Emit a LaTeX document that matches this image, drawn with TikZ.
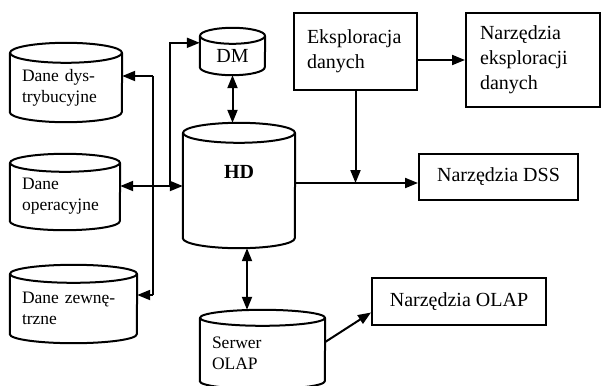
\documentclass[tikz,border=0pt]{standalone}
\usepackage{fontspec}
\setmainfont{Liberation Serif}
\usetikzlibrary{arrows.meta,calc}

\tikzset{
  canline/.style={line width=2pt, line join=round},
  can/.style={inner xsep=12pt, inner ysep=0pt, align=left, font=\fontsize{17.5}{21}\selectfont},
  box/.style={draw, line width=2pt, inner ysep=0pt, font=\fontsize{20}{25}\selectfont},
  wire/.style={line width=2pt},
  link/.style={wire, -{Triangle[length=13pt,width=10pt]}},
  twoway/.style={wire, {Triangle[length=13pt,width=10pt]}-{Triangle[length=13pt,width=10pt]}}
}

% outline of a can round node #1 (north = rim centre), half width #2, rim radius #3
\newcommand{\drawcan}[3]{%
  \draw[canline] (#1.north west) -- ($(#1.south west)+(0,-#3)$)
    arc[start angle=180, end angle=0, x radius=#2, y radius=#3]
    -- (#1.north east);
  \draw[canline] (#1.north) ellipse[x radius=#2, y radius=#3];
}

\begin{document}
\begin{tikzpicture}[x=1pt,y=1pt,yscale=-1,xscale=1]
    \useasboundingbox (0,0) rectangle (601,385);

    %Shape: Can
    \draw (66,87.5) node (dys) [can, text width=88pt, minimum height=69pt] {Dane dys-\\trybucyjne};
    \drawcan{dys}{56}{10}
    %Shape: Can
    \draw (65,196.5) node (ope) [can, text width=86pt, minimum height=67pt] {Dane\\operacyjne};
    \drawcan{ope}{55}{9}
    %Shape: Can
    \draw (73.5,308.5) node (zew) [can, text width=103pt, minimum height=69pt] {Dane zewnę-\\trzne};
    \drawcan{zew}{63.5}{9}
    %Shape: Can
    \draw (232.5,55.5) node (dm) [can, font=\fontsize{20}{24}\selectfont, inner xsep=0pt, minimum width=65pt, minimum height=39pt] {DM};
    \drawcan{dm}{32.5}{8}
    %Shape: Can
    \draw (239,190.5) node (hd) [can, font=\fontsize{20}{24}\selectfont\bfseries, inner xsep=0pt, minimum width=112pt, minimum height=115pt] {\raisebox{12.5pt}[0pt][0pt]{HD}};
    \drawcan{hd}{56}{10}
    %Shape: Can
    \draw (262.5,353.5) node (srv) [can, text width=101pt, minimum height=71pt] {Serwer\\OLAP};
    \drawcan{srv}{62.5}{8}

    %Shape: Rectangle
    \draw (355.5,51.5) node (eks) [box, align=left, inner xsep=13pt, text width=97pt, minimum height=77pt] {Eksploracja\\danych};
    %Shape: Rectangle
    \draw (533,60) node (neks) [box, align=left, inner xsep=14pt, text width=106pt, minimum height=94pt] {Narzędzia\\eksploracji\\danych};
    %Shape: Rectangle
    \draw (498.5,177) node (dss) [box, minimum width=159pt, minimum height=46pt] {Narzędzia DSS};
    %Shape: Rectangle
    \draw (459,301.5) node (olap) [box, minimum width=174pt, minimum height=47pt] {Narzędzia OLAP};

    % bends of the lines
    \coordinate (bt) at (153,76);
    \coordinate (bb) at (153,295);
    \coordinate (jn) at (170,186);
    \coordinate (dn) at (357,183);

    %Straight Lines
    \draw[wire] (bt) -- (bb);
    \draw[link] (bt) -- (dys.east |- bt);
    \draw[link] (bb) -- (zew.east |- bb);
    \draw[twoway] (ope.east |- jn) -- (hd.west |- jn);
    \draw[link] (jn) |- ($(dm.north west)+(0,7)$);
    \draw[twoway] (dm.south) -- ($(dm.south |- hd.north)+(0,-10)$);
    \draw[twoway] ($(hd.south)+(8,0)$) -- ($(srv.north)+(-15.5,-8)$);
    \draw[link] (hd.east |- dn) -- (dss.west |- dn);
    \draw[link] (eks.south) -- (eks.south |- dn);
    \draw[link] (eks.east |- neks.west) -- (neks.west);
    \draw[link] ($(srv.east)+(0,-11.5)$) -- ($(olap.west)+(0,11)$);

\end{tikzpicture}
\end{document}
